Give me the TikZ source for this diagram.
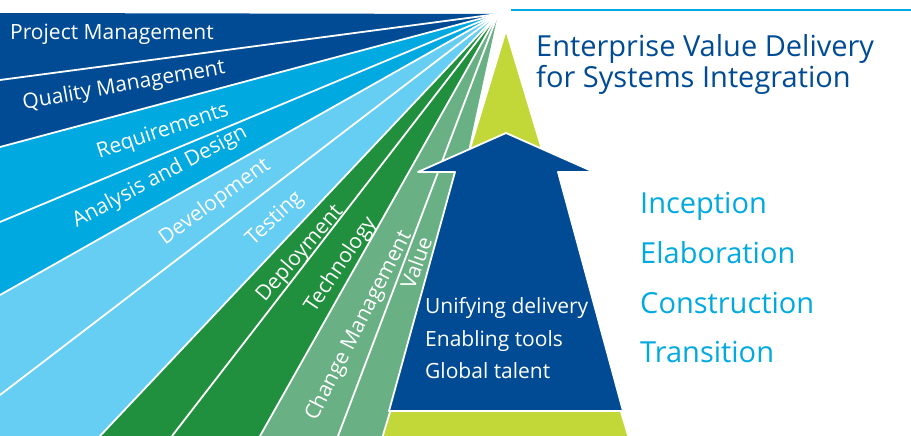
\documentclass[tikz,border=0pt]{standalone}
\usepackage{fontspec}
\setmainfont{Open Sans}
\definecolor{evdnavy}{HTML}{004B93}
\definecolor{evdblue}{HTML}{00A9E0}
\definecolor{evdsky}{HTML}{66CDF3}
\definecolor{evdgreen}{HTML}{21903E}
\definecolor{evdsage}{HTML}{6AB085}
\definecolor{evdlime}{HTML}{C2D838}
\begin{document}
\begin{tikzpicture}
    [x=1pt, y=-1pt,
     gap/.style={draw=white, line width=1.8pt, line join=round},
     band/.style={text=white, font=\fontsize{21}{25}\selectfont, inner sep=0pt},
     pillar/.style={text=white, font=\fontsize{21}{25}\selectfont, anchor=base west, inner sep=0pt},
     phase/.style={text=evdblue, font=\fontsize{29}{34}\selectfont, anchor=base west, inner sep=0pt},
     heading/.style={text=evdnavy, font=\fontsize{29}{34}\selectfont, anchor=base west, inner sep=0pt}]
    \useasboundingbox (0,0) rectangle (911,436);
    \clip (0,0) rectangle (911,436);
    \coordinate (apex) at (498,14);
    \fill[evdnavy] (apex) -- (0,13) -- (0,147) -- cycle;
    \fill[evdblue] (apex) -- (0,147) -- (0,295) -- cycle;
    \fill[evdsky] (apex) -- (0,295) -- (0,436) -- (100,436) -- cycle;
    \fill[evdgreen] (apex) -- (100,436) -- (260,436) -- cycle;
    \fill[evdsage] (apex) -- (260,436) -- (406,436) -- cycle;
    \foreach \y in {80,147,222,295,395}
        \draw[gap] (apex) -- (0,\y);
    \foreach \x in {100,172,260,338}
        \draw[gap] (apex) -- (\x,436);
    \filldraw[gap, fill=evdlime] (506,30) -- (380,445) -- (631,445) -- cycle;
    \filldraw[gap, fill=evdnavy] (506,133) -- (594,172) -- (558,172) -- (623,411)
        -- (389,411) -- (455,172) -- (418,172) -- cycle;
    \draw[evdblue, line width=2pt] (511,10) -- (911,10);
    \node[band, anchor=base west] (pm) at (10,40) {Project Management};
    \node[band, rotate=10] (qm) at (124,86) {Quality Management};
    \node[band, rotate=18.5] (req) at (163,132) {Requirements};
    \node[band, rotate=28] (ad) at (160,177) {Analysis and Design};
    \node[band, rotate=36] (dev) at (215,202) {Development};
    \node[band, rotate=43] (test) at (275,219) {Testing};
    \node[band, rotate=49] (deploy) at (300,254) {Deployment};
    \node[band, rotate=56] (tech) at (341,265) {Technology};
    \node[band, rotate=63] (change) at (359,326) {Change Management};
    \node[band, rotate=70] (value) at (416,263) {Value};
    \node[pillar] (unify) at (425,313) {Unifying delivery};
    \node[pillar] (tools) at (425,346) {Enabling tools};
    \node[pillar] (talent) at (425,378) {Global talent};
    \node[heading] (title) at (536,57) {Enterprise Value Delivery};
    \node[heading] (subtitle) at (536,88) {for Systems Integration};
    \node[phase] (incep) at (640,213) {Inception};
    \node[phase] (elab) at (640,263) {Elaboration};
    \node[phase] (constr) at (640,313) {Construction};
    \node[phase] (trans) at (640,362) {Transition};
\end{tikzpicture}
\end{document}
